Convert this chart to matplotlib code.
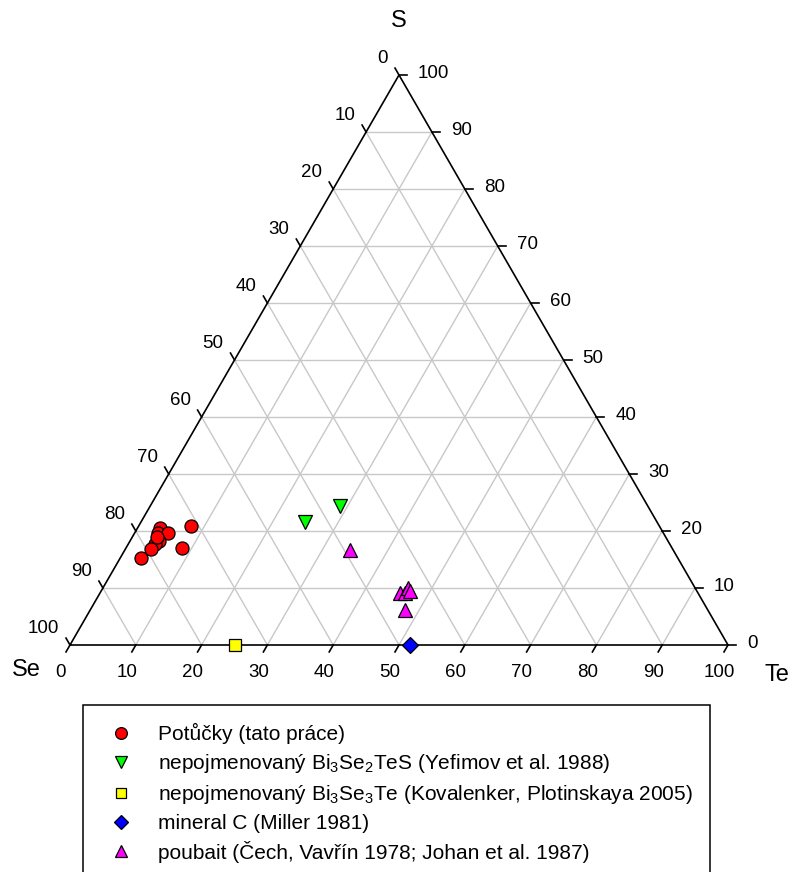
import numpy as np
import matplotlib
matplotlib.use("Agg")
import matplotlib.pyplot as plt
import matplotlib.patches as patches

plt.rcParams['font.family'] = ['Liberation Sans', 'DejaVu Sans']
plt.rcParams['mathtext.fontset'] = 'custom'
plt.rcParams['mathtext.rm'] = 'Liberation Sans'
plt.rcParams['mathtext.it'] = 'Liberation Sans'

# compositions in % (Se, Te, S)
potucky_se = [76.1, 76.9, 75.3, 71.2, 77.4, 78.3, 79.3, 74.5, 81.6, 77.4]
potucky_te = [3.4, 3.5, 5.1, 8.0, 4.3, 4.0, 3.9, 8.5, 3.2, 3.7]
potucky_s = [20.5, 19.6, 19.6, 20.8, 18.3, 17.7, 16.8, 17.0, 15.2, 18.9]

yefimov_se = [46.8, 53.6]
yefimov_te = [28.8, 24.9]
yefimov_s = [24.4, 21.5]

kovalenker_se = [75.0]
kovalenker_te = [25.0]
kovalenker_s = [0.0]

miller_se = [48.4]
miller_te = [51.6]
miller_s = [0.0]

poubait_se = [49.1, 45.3, 44.5, 43.6, 43.6, 46.1]
poubait_te = [34.2, 45.5, 46.4, 46.4, 46.9, 47.8]
poubait_s = [16.7, 9.2, 9.1, 10.0, 9.5, 6.1]

labels = [
    'Potůčky (tato práce)',
    r'nepojmenovaný Bi$_\mathregular{3}$Se$_\mathregular{2}$TeS (Yefimov et al. 1988)',
    r'nepojmenovaný Bi$_\mathregular{3}$Se$_\mathregular{3}$Te (Kovalenker, Plotinskaya 2005)',
    'mineral C (Miller 1981)',
    'poubait (Čech, Vavřín 1978; Johan et al. 1987)',
]
ticks = np.arange(0, 101, 10)

H = np.sqrt(3) / 2


def tern(se, te, s):
    te = np.asarray(te, float) / 100.0
    s = np.asarray(s, float) / 100.0
    return te + s / 2.0, s * H


W, Hpx = 795, 872
fig = plt.figure(figsize=(W / 100, Hpx / 100), dpi=100)
# triangle: Se corner (70,645), Te corner (728,645), S apex (399,75) in pixels
ax = fig.add_axes([70 / W, 1 - 645 / Hpx, 658 / W, 570 / Hpx])
ax.set_xlim(0, 1)
ax.set_ylim(0, H)
ax.axis('off')

px = 1 / 658.0  # one pixel in data units
tfs = 13.5

# grid
for v in ticks[1:-1]:
    f = v / 100.0
    ax.plot([f / 2, 1 - f / 2], [f * H, f * H], color='#c8c8c8', lw=1.0, zorder=1)
    ax.plot([f, f / 2 + 0.5], [0, (1 - f) * H], color='#c8c8c8', lw=1.0, zorder=1)
    ax.plot([f, f / 2], [0, f * H], color='#c8c8c8', lw=1.0, zorder=1)

# frame
ax.plot([0, 1, 0.5, 0], [0, 0, H, 0], color='black', lw=1.2, zorder=2,
        solid_joinstyle='miter', clip_on=False)

L = 8 * px
for v in ticks:
    f = v / 100.0
    # bottom axis: Te
    x0, y0 = f, 0
    ax.plot([x0, x0 - 0.5 * L], [y0, y0 - H * L], color='black', lw=1.2, clip_on=False)
    ax.text(x0 - 9 * px, y0 - 27 * px, str(v), ha='center', va='center', fontsize=tfs)
    # left axis: Se (100 at bottom-left)
    x0, y0 = (1 - f) / 2, (1 - f) * H
    ax.plot([x0, x0 - 0.5 * L], [y0, y0 + H * L], color='black', lw=1.2, clip_on=False)
    ax.text(x0 - 11 * px, y0 + 16 * px, str(v), ha='right', va='center', fontsize=tfs)
    # right axis: S
    x0, y0 = 1 - f / 2, f * H
    ax.plot([x0, x0 + L], [y0, y0], color='black', lw=1.2, clip_on=False)
    ax.text(x0 + 19 * px, y0 + 1 * px, str(v), ha='left', va='center', fontsize=tfs)

ax.text(0.5, H + 54 * px, 'S', ha='center', va='center', fontsize=17)
ax.text(-44 * px, -25 * px, 'Se', ha='center', va='center', fontsize=17)
ax.text(1 + 49 * px, -30 * px, 'Te', ha='center', va='center', fontsize=17)

handles = []
x, y = tern(potucky_se, potucky_te, potucky_s)
handles += ax.plot(x, y, 'o', ms=9.4, mfc='#ff0000', mec='black', mew=0.9, zorder=3, clip_on=False)
x, y = tern(yefimov_se, yefimov_te, yefimov_s)
handles += ax.plot(x, y, 'v', ms=9.6, mfc='#00ff00', mec='black', mew=0.9, zorder=3, clip_on=False)
x, y = tern(kovalenker_se, kovalenker_te, kovalenker_s)
handles += ax.plot(x, y, 's', ms=8.0, mfc='#ffff00', mec='black', mew=0.9, zorder=3, clip_on=False)
x, y = tern(miller_se, miller_te, miller_s)
handles += ax.plot(x, y, 'D', ms=8.0, mfc='#0000ff', mec='black', mew=0.9, zorder=3, clip_on=False)
x, y = tern(poubait_se, poubait_te, poubait_s)
handles += ax.plot(x, y, '^', ms=9.6, mfc='#ff00ff', mec='black', mew=0.9, zorder=3, clip_on=False)

# legend box runs off the bottom of the figure
box = patches.Rectangle((83 / W, -0.05), (710 - 83) / W, (872 - 705) / Hpx + 0.05,
                        transform=fig.transFigure, fill=False, edgecolor='black', lw=1.1)
fig.patches.append(box)
fig.legend(handles, labels, loc='upper left', bbox_to_anchor=(112.5 / W, 1 - 723 / Hpx),
           frameon=False, fontsize=15, handlelength=0.8, handletextpad=1.4,
           labelspacing=0.38, borderpad=0, borderaxespad=0, markerscale=0.9)

fig.savefig('out.png', dpi=100)
